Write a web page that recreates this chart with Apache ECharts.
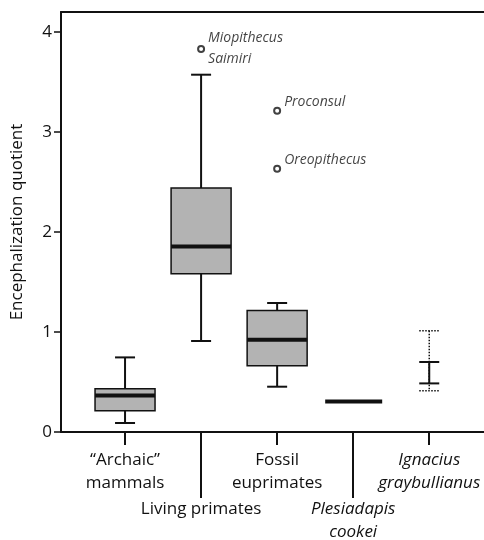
<!DOCTYPE html>
<html>
<head>
<meta charset="utf-8">
<script src="https://cdn.jsdelivr.net/npm/echarts@6/dist/echarts.min.js"></script>
<style>
html, body { margin: 0; padding: 0; background: #fff; }
#main { width: 484px; height: 540px; }
</style>
</head>
<body>
<div id="main"></div>
<script>
// data
var categories = ['“Archaic”\nmammals', 'Living primates', 'Fossil\neuprimates', 'Plesiadapis\ncookei', 'Ignacius\ngraybullianus'];
var italicCats = [false, false, false, true, true];
var yTicks = [0, 1, 2, 3, 4];
// [category, min, q1, median, q3, max]
var boxValues = [
	[1, 0.09, 0.213, 0.366, 0.433, 0.746],
	[2, 0.91, 1.583, 1.856, 2.44, 3.573],
	[3, 0.453, 0.663, 0.923, 1.216, 1.29]
];
var plesiadapisValue = [[4, 0.306]];
// [category, low, innerLow, innerHigh, high]
var ignaciusValues = [[5, 0.413, 0.486, 0.70, 1.013]];
var outliers = [
	[2, 3.83, 'Miopithecus\nSaimiri'],
	[3, 3.213, 'Proconsul'],
	[3, 2.633, 'Oreopithecus']
];

var ink = '#111';
var font = 'Open Sans';
var xMin = 0.158, xMax = 5.72;

function catLabel(v) {
	var i = Math.round(v) - 1;
	var txt = categories[i];
	if (!txt) return '';
	if (italicCats[i]) {
		return txt.split('\n').map(function (s) { return '{it|' + s + '}'; }).join('\n');
	}
	return txt;
}

function seg(x1, y1, x2, y2, w, dash) {
	return {
		type: 'line',
		shape: { x1: x1, y1: y1, x2: x2, y2: y2 },
		style: { stroke: ink, lineWidth: w, lineDash: dash || null }
	};
}

function renderBox(params, api) {
	var x = api.value(0);
	var pMin = api.coord([x, api.value(1)]);
	var pQ1 = api.coord([x, api.value(2)]);
	var pMed = api.coord([x, api.value(3)]);
	var pQ3 = api.coord([x, api.value(4)]);
	var pMax = api.coord([x, api.value(5)]);
	var cx = pMin[0], hw = 30, cw = 10;
	return {
		type: 'group',
		children: [
			seg(cx, pMax[1], cx, pQ3[1], 2),
			seg(cx, pQ1[1], cx, pMin[1], 2),
			seg(cx - cw, pMax[1], cx + cw, pMax[1], 2),
			seg(cx - cw, pMin[1], cx + cw, pMin[1], 2),
			{
				type: 'rect',
				shape: { x: cx - hw, y: pQ3[1], width: hw * 2, height: pQ1[1] - pQ3[1] },
				style: { fill: '#b3b3b3', stroke: ink, lineWidth: 1.5 }
			},
			seg(cx - hw, pMed[1], cx + hw, pMed[1], 4)
		]
	};
}

function renderFlat(params, api) {
	var p = api.coord([api.value(0), api.value(1)]);
	return seg(p[0] - 28, p[1], p[0] + 29, p[1], 4);
}

function renderRange(params, api) {
	var x = api.value(0);
	var pLo = api.coord([x, api.value(1)]);
	var pIl = api.coord([x, api.value(2)]);
	var pIh = api.coord([x, api.value(3)]);
	var pHi = api.coord([x, api.value(4)]);
	var cx = pLo[0], cw = 10, dot = [1.5, 1.5];
	return {
		type: 'group',
		children: [
			seg(cx, pHi[1], cx, pLo[1], 1.5, dot),
			seg(cx - cw, pHi[1], cx + cw, pHi[1], 1.5, dot),
			seg(cx - cw, pLo[1], cx + cw, pLo[1], 1.5, dot),
			seg(cx, pIh[1], cx, pIl[1], 2),
			seg(cx - cw, pIh[1], cx + cw, pIh[1], 2),
			seg(cx - cw, pIl[1], cx + cw, pIl[1], 2)
		]
	};
}

var labelBase = {
	fontFamily: font,
	fontSize: 17,
	color: ink,
	lineHeight: 23,
	align: 'center',
	formatter: catLabel,
	rich: {
		it: { fontFamily: font, fontSize: 17, fontStyle: 'italic', color: ink, lineHeight: 23 }
	}
};

var myChart = echarts.init(document.getElementById('main'));
var option = {
	animation: false,
	grid: { left: 61, right: 0, top: 12, bottom: 108, containLabel: false, outerBoundsMode: 'none' },
	xAxis: [{
		type: 'value',
		min: xMin,
		max: xMax,
		position: 'bottom',
		splitLine: { show: false },
		axisLine: { show: true, onZero: false, lineStyle: { color: ink, width: 2 } },
		axisTick: { show: true, length: 13, customValues: [1, 3, 5], lineStyle: { color: ink, width: 2 } },
		axisLabel: Object.assign({ margin: 17, customValues: [1, 3, 5] }, labelBase)
	}, {
		type: 'value',
		min: xMin,
		max: xMax,
		position: 'bottom',
		splitLine: { show: false },
		axisLine: { show: false, onZero: false },
		axisTick: { show: true, length: 66, customValues: [2, 4], lineStyle: { color: ink, width: 2 } },
		axisLabel: Object.assign({ margin: 66, customValues: [2, 4] }, labelBase)
	}, {
		type: 'value',
		min: xMin,
		max: xMax,
		position: 'top',
		splitLine: { show: false },
		axisLine: { show: true, onZero: false, lineStyle: { color: ink, width: 2 } },
		axisTick: { show: false },
		axisLabel: { show: false }
	}],
	yAxis: {
		type: 'value',
		min: 0,
		max: 4.2,
		name: 'Encephalization quotient',
		nameLocation: 'middle',
		nameGap: 35,
		nameTextStyle: { fontFamily: font, fontSize: 17, color: ink },
		splitLine: { show: false },
		axisLine: { show: true, onZero: false, lineStyle: { color: ink, width: 2 } },
		axisTick: { show: true, length: 7, customValues: yTicks, lineStyle: { color: ink, width: 1.5 } },
		axisLabel: { customValues: yTicks, margin: 9, fontFamily: font, fontSize: 17, color: ink }
	},
	series: [{
		type: 'custom',
		renderItem: renderBox,
		encode: { x: 0, y: [1, 2, 3, 4, 5] },
		data: boxValues
	}, {
		type: 'custom',
		renderItem: renderFlat,
		encode: { x: 0, y: 1 },
		data: plesiadapisValue
	}, {
		type: 'custom',
		renderItem: renderRange,
		encode: { x: 0, y: [1, 2, 3, 4] },
		data: ignaciusValues
	}, {
		type: 'scatter',
		symbol: 'circle',
		symbolSize: 6,
		itemStyle: { color: '#fff', borderColor: ink, borderWidth: 2 },
		label: {
			show: true,
			position: 'right',
			distance: 3,
			fontFamily: font,
			fontSize: 14,
			fontStyle: 'italic',
			color: ink,
			lineHeight: 21,
			formatter: function (p) { return p.value[2]; }
		},
		data: outliers.map(function (o) {
			var single = o[2].indexOf('\n') < 0;
			return {
				value: o,
				label: single ? { offset: [0, -9] } : {}
			};
		})
	}]
};
myChart.setOption(option);
</script>
</body>
</html>
